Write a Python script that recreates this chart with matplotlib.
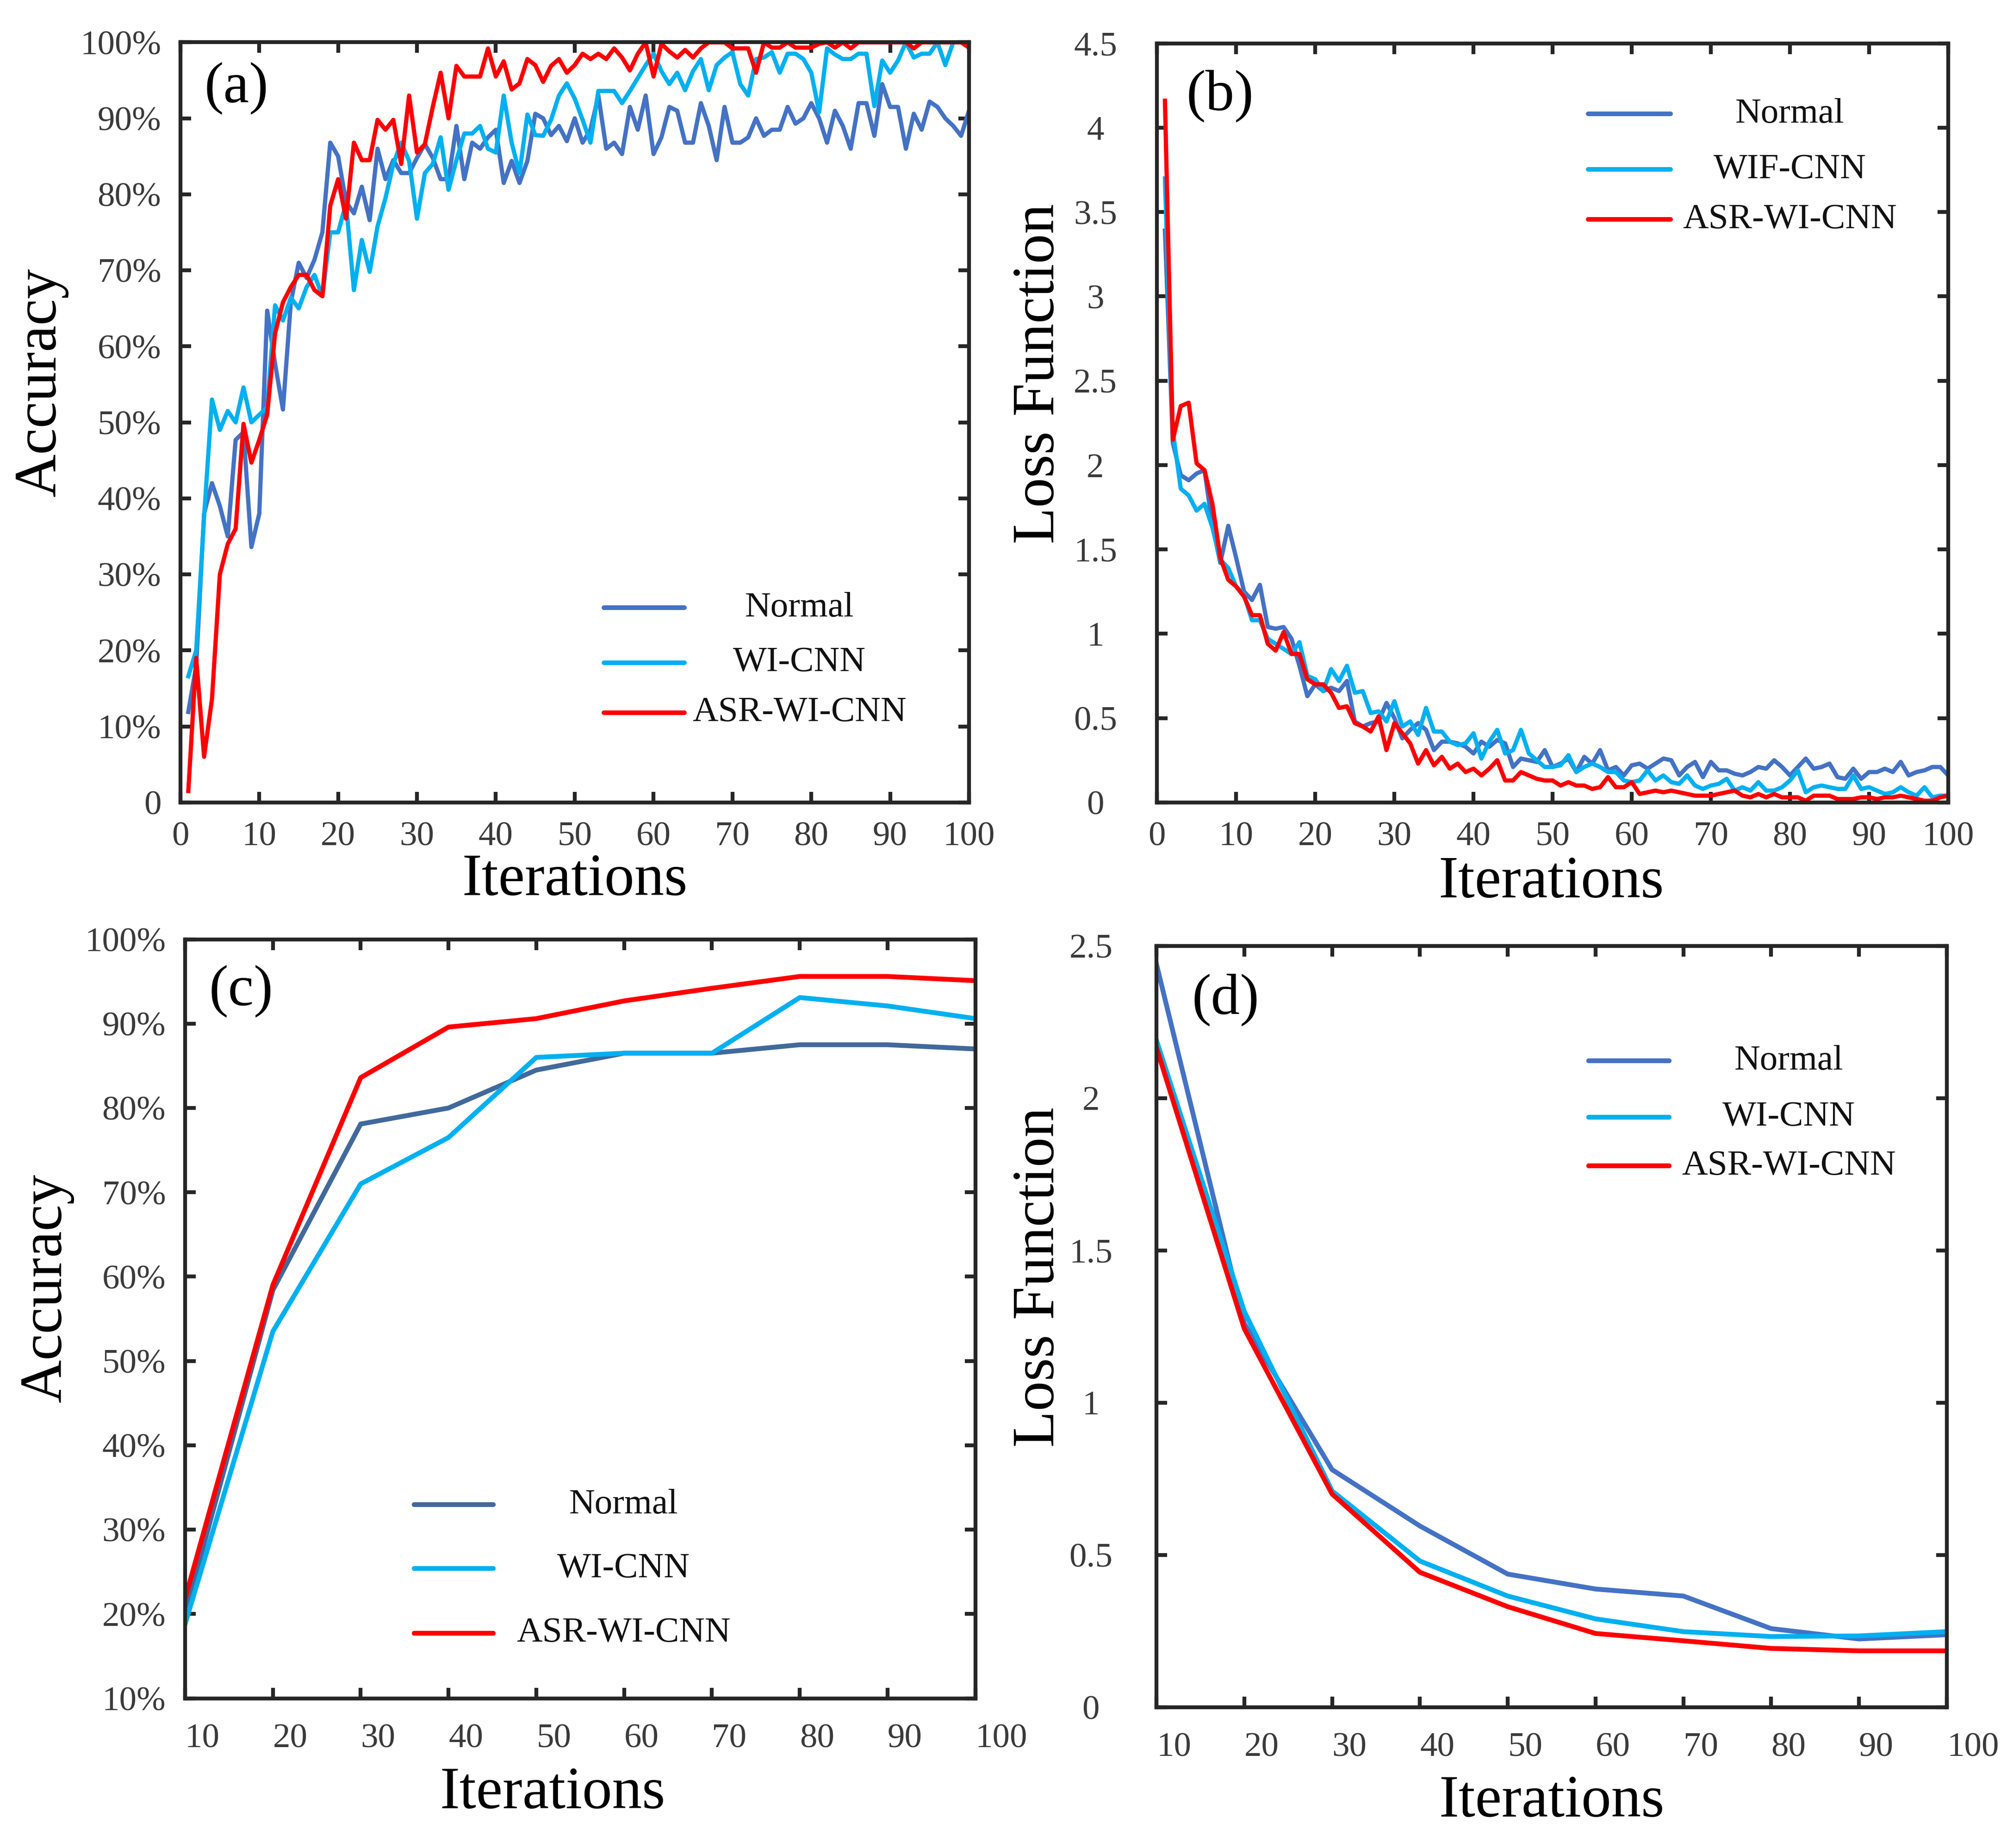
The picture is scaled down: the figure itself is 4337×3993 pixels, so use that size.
import numpy as np
import matplotlib
matplotlib.use("Agg")
import matplotlib.pyplot as plt
from matplotlib.ticker import FuncFormatter

plt.rcParams['font.family'] = ['Liberation Serif', 'DejaVu Serif']

# ---- data ----
iters_ab = np.arange(1, 101)
iters_cd = np.arange(10, 101, 10)

acc_normal = [11.9, 18, 38, 42, 39, 35, 47.7, 48.7, 33.6, 38,
              64.7, 57.7, 51.7, 65.8, 71, 69, 71.4, 75, 86.8, 85,
              79, 77.5, 81, 76.6, 86, 82, 84.5, 82.8, 82.8, 84.8,
              86.6, 84.8, 82, 82, 89, 82, 86.8, 86, 87.5, 88.5,
              81.5, 84.4, 81.5, 84.4, 90.6, 90, 87.8, 89, 87, 90,
              86.8, 88.5, 93, 86, 86.8, 85.3, 91.5, 88.5, 93, 85.3,
              87.5, 91.5, 91, 86.8, 86.8, 92, 89, 84.5, 91.5, 86.8,
              86.8, 87.5, 90, 87.7, 88.5, 88.5, 91.5, 89.3, 90, 92,
              90, 86.8, 91, 89, 86, 92, 92, 87.7, 94.5, 91.5,
              91.5, 86, 90.6, 88.5, 92.2, 91.5, 90, 89, 87.7, 91]
acc_wicnn = [16.6, 20, 37.6, 53, 49, 51.5, 50, 54.6, 50, 51,
             52, 65.4, 63.4, 66.4, 65, 67.8, 69.4, 66.6, 75, 75,
             78.8, 67.4, 74, 69.8, 75.8, 79.5, 84, 86.8, 84.4, 76.8,
             82.8, 84, 87.5, 80.6, 84.5, 88, 88, 89, 86, 85.5,
             93, 86.8, 82.8, 90.5, 87.8, 87.7, 89.8, 93, 94.6, 92.6,
             89.8, 86.8, 93.6, 93.6, 93.6, 92, 93.6, 95.3, 97, 98.5,
             96.2, 94.5, 96, 93.7, 96.2, 97.8, 93.7, 97, 98, 98.7,
             94.5, 93, 97.8, 98, 98.7, 96, 98.5, 98.5, 97.8, 96,
             90.8, 99.2, 98.4, 97.8, 97.8, 98.5, 98.5, 91.6, 97.6, 96,
             97.6, 100, 98, 98.5, 98.5, 100, 97, 100, 100, 100]
acc_asr = [1.5, 19, 6, 13.6, 30, 34, 36, 49.8, 44.7, 47.7,
           51, 61.7, 65.8, 67.8, 69.4, 69.4, 67.4, 66.6, 78.5, 82,
           76.8, 86.8, 84.5, 84.5, 89.8, 88.5, 89.8, 84, 93, 85.5,
           86.6, 91.5, 96, 90, 96.9, 95.5, 95.5, 95.5, 99.2, 95.5,
           97.5, 93.8, 94.6, 97.8, 97, 94.8, 96.9, 97.8, 96, 97,
           98.5, 97.8, 98.5, 97.8, 99.2, 98, 96.3, 98.5, 100, 95.5,
           99.8, 98.8, 98, 99, 98, 99.2, 100, 100, 100, 99.2,
           99.2, 99.2, 96, 100, 99.3, 99.3, 100, 99.3, 99.3, 99.3,
           99.8, 100, 99.3, 100, 99.2, 100, 100, 100, 100, 100,
           100, 100, 99.2, 100, 100, 100, 100, 100, 100, 99.3]

loss_normal = [3.39, 2.13, 1.94, 1.91, 1.95, 1.97, 1.64, 1.42, 1.64, 1.45,
               1.25, 1.20, 1.29, 1.04, 1.03, 1.04, 0.97, 0.81, 0.63, 0.70,
               0.66, 0.68, 0.66, 0.72, 0.48, 0.45, 0.47, 0.48, 0.59, 0.50,
               0.38, 0.43, 0.47, 0.43, 0.31, 0.36, 0.36, 0.35, 0.33, 0.29,
               0.36, 0.33, 0.37, 0.35, 0.21, 0.26, 0.25, 0.24, 0.31, 0.21,
               0.23, 0.26, 0.18, 0.27, 0.23, 0.31, 0.19, 0.21, 0.16, 0.22,
               0.23, 0.20, 0.23, 0.26, 0.25, 0.16, 0.21, 0.24, 0.15, 0.24,
               0.19, 0.19, 0.17, 0.16, 0.18, 0.21, 0.20, 0.25, 0.21, 0.16,
               0.21, 0.26, 0.20, 0.21, 0.23, 0.15, 0.14, 0.20, 0.14, 0.18,
               0.18, 0.20, 0.18, 0.24, 0.16, 0.18, 0.19, 0.21, 0.21, 0.16]
loss_wifcnn = [3.70, 2.2, 1.86, 1.82, 1.73, 1.77, 1.63, 1.44, 1.39, 1.28,
               1.23, 1.08, 1.08, 0.97, 0.94, 0.91, 0.88, 0.95, 0.75, 0.73,
               0.66, 0.79, 0.72, 0.81, 0.65, 0.66, 0.53, 0.54, 0.48, 0.60,
               0.45, 0.48, 0.40, 0.56, 0.42, 0.42, 0.36, 0.34, 0.35, 0.41,
               0.26, 0.36, 0.43, 0.29, 0.31, 0.43, 0.29, 0.25, 0.21, 0.21,
               0.22, 0.28, 0.18, 0.21, 0.23, 0.21, 0.18, 0.18, 0.13, 0.12,
               0.13, 0.19, 0.13, 0.16, 0.12, 0.11, 0.16, 0.10, 0.08, 0.10,
               0.11, 0.14, 0.07, 0.09, 0.07, 0.12, 0.07, 0.07, 0.09, 0.13,
               0.19, 0.06, 0.09, 0.10, 0.09, 0.08, 0.08, 0.16, 0.08, 0.09,
               0.07, 0.05, 0.06, 0.09, 0.06, 0.04, 0.09, 0.03, 0.04, 0.04]
loss_asr = [4.16, 2.15, 2.35, 2.37, 2.01, 1.97, 1.77, 1.45, 1.32, 1.28,
            1.22, 1.11, 1.11, 0.94, 0.90, 1.01, 0.88, 0.88, 0.73, 0.70,
            0.70, 0.65, 0.56, 0.57, 0.47, 0.45, 0.42, 0.51, 0.31, 0.47,
            0.41, 0.35, 0.23, 0.31, 0.22, 0.27, 0.20, 0.23, 0.18, 0.20,
            0.16, 0.20, 0.25, 0.13, 0.13, 0.18, 0.16, 0.14, 0.13, 0.13,
            0.10, 0.12, 0.10, 0.10, 0.08, 0.09, 0.15, 0.09, 0.09, 0.12,
            0.05, 0.06, 0.07, 0.06, 0.07, 0.06, 0.05, 0.04, 0.04, 0.04,
            0.05, 0.06, 0.07, 0.04, 0.03, 0.05, 0.03, 0.05, 0.03, 0.03,
            0.03, 0.01, 0.04, 0.04, 0.04, 0.02, 0.02, 0.02, 0.03, 0.03,
            0.02, 0.03, 0.03, 0.04, 0.03, 0.02, 0.01, 0.01, 0.03, 0.04]

acc_c_normal = [20, 58.4, 78.1, 80, 84.5, 86.5, 86.5, 87.5, 87.5, 87]
acc_c_wicnn = [18.8, 53.5, 71, 76.5, 86, 86.5, 86.5, 93.1, 92.1, 90.6]
acc_c_asr = [21.8, 59, 83.6, 89.6, 90.6, 92.7, 94.2, 95.6, 95.6, 95.1]

loss_d_normal = [2.44, 1.26, 0.78, 0.595, 0.437, 0.388, 0.365, 0.258, 0.224, 0.238]
loss_d_wicnn = [2.19, 1.30, 0.71, 0.48, 0.365, 0.29, 0.248, 0.232, 0.234, 0.248]
loss_d_asr = [2.166, 1.243, 0.70, 0.443, 0.33, 0.242, 0.218, 0.193, 0.185, 0.185]

BLUE = '#4472C4'
STEEL = '#41699C'
CYAN = '#00B0F0'
RED = '#FF0000'
SPINE = '#262626'
TICKC = '#3a3a3a'


def style_axes(ax, xlim, ylim, xticks, yticks, yfmt, xha='center', yha='right',
               ypad=10, xpad=10):
    ax.set_xlim(*xlim)
    ax.set_ylim(*ylim)
    ax.set_xticks(xticks)
    ax.set_yticks(yticks)
    ax.yaxis.set_major_formatter(FuncFormatter(yfmt))
    for s in ax.spines.values():
        s.set_linewidth(2.0)
        s.set_color(SPINE)
    ax.tick_params(direction='in', top=True, right=True, length=5.5, width=2.0,
                   color=SPINE, labelsize=18, labelcolor=TICKC)
    ax.tick_params(axis='x', pad=xpad)
    ax.tick_params(axis='y', pad=ypad)
    for t in ax.get_xticklabels():
        t.set_ha(xha)
    for t in ax.get_yticklabels():
        t.set_ha(yha)


def labels(ax, xlab, ylab, xpos, ypos, panel, ppos):
    ax.set_xlabel(xlab, fontsize=31)
    ax.set_ylabel(ylab, fontsize=31)
    ax.xaxis.label.set_va('center')
    ax.yaxis.label.set_va('center')
    ax.xaxis.set_label_coords(*xpos)
    ax.yaxis.set_label_coords(*ypos)
    ax.text(ppos[0], ppos[1], panel, transform=ax.transAxes, fontsize=30,
            ha='left', va='center')


def legend(ax, names, colors, x0, x1, xt, ys, lw):
    for name, c, y in zip(names, colors, ys):
        ax.plot([x0, x1], [y, y], transform=ax.transAxes, color=c, lw=lw,
                solid_capstyle='round', clip_on=False)
        ax.text(xt, y, name, transform=ax.transAxes, fontsize=18.5,
                ha='center', va='center', color='#111111')


def pct0(v, pos):
    return '0' if v == 0 else '%d%%' % v


def pct(v, pos):
    return '%d%%' % v


def num(v, pos):
    return '%g' % v


fig = plt.figure(figsize=(4337 / 300, 3993 / 300), dpi=300)

# (a)
ax = fig.add_axes([0.0899, 0.5658, 0.3929, 0.4113])
ax.plot(iters_ab, acc_normal, color=BLUE, lw=2.2)
ax.plot(iters_ab, acc_wicnn, color=CYAN, lw=2.2)
ax.plot(iters_ab, acc_asr, color=RED, lw=2.2)
style_axes(ax, (0, 100), (0, 100), range(0, 101, 10), range(0, 101, 10), pct0)
labels(ax, 'Iterations', 'Accuracy', (0.5, -0.103), (-0.177, 0.553), '(a)', (0.03, 0.939))
legend(ax, ['Normal', 'WI-CNN', 'ASR-WI-CNN'], [BLUE, CYAN, RED],
       0.537, 0.639, 0.785, [0.256, 0.184, 0.118], 2.4)

# (b)
ax = fig.add_axes([0.5765, 0.5658, 0.3942, 0.4107])
ax.plot(iters_ab, loss_normal, color=BLUE, lw=2.2)
ax.plot(iters_ab, loss_wifcnn, color=CYAN, lw=2.2)
ax.plot(iters_ab, loss_asr, color=RED, lw=2.2)
style_axes(ax, (0, 100), (0, 4.5), range(0, 101, 10), np.arange(0, 4.51, 0.5), num,
           yha='center', ypad=32)
labels(ax, 'Iterations', 'Loss Function', (0.498, -0.106), (-0.149, 0.565), '(b)', (0.037, 0.931))
legend(ax, ['Normal', 'WIF-CNN', 'ASR-WI-CNN'], [BLUE, CYAN, RED],
       0.545, 0.649, 0.80, [0.907, 0.834, 0.768], 2.4)

# (c)
ax = fig.add_axes([0.0922, 0.0810, 0.3938, 0.4107])
ax.plot(iters_cd, acc_c_normal, color=STEEL, lw=2.5)
ax.plot(iters_cd, acc_c_wicnn, color=CYAN, lw=2.5)
ax.plot(iters_cd, acc_c_asr, color=RED, lw=2.5)
style_axes(ax, (10, 100), (10, 100), range(10, 101, 10), range(10, 101, 10), pct,
           xha='left', xpad=13)
labels(ax, 'Iterations', 'Accuracy', (0.465, -0.126), (-0.175, 0.541), '(c)', (0.03, 0.931))
legend(ax, ['Normal', 'WI-CNN', 'ASR-WI-CNN'], [STEEL, CYAN, RED],
       0.29, 0.39, 0.555, [0.255, 0.171, 0.086], 2.5)

# (d)
ax = fig.add_axes([0.5762, 0.0762, 0.3938, 0.4120])
ax.plot(iters_cd, loss_d_normal, color=BLUE, lw=2.5)
ax.plot(iters_cd, loss_d_wicnn, color=CYAN, lw=2.5)
ax.plot(iters_cd, loss_d_asr, color=RED, lw=2.5)
style_axes(ax, (10, 100), (0, 2.5), range(10, 101, 10), np.arange(0, 2.51, 0.5), num,
           xha='left', yha='center', ypad=34, xpad=13)
labels(ax, 'Iterations', 'Loss Function', (0.5, -0.125), (-0.148, 0.565), '(d)', (0.045, 0.929))
legend(ax, ['Normal', 'WI-CNN', 'ASR-WI-CNN'], [BLUE, CYAN, RED],
       0.547, 0.649, 0.80, [0.849, 0.775, 0.711], 2.5)

fig.savefig('out.png', dpi=300, facecolor='white')
